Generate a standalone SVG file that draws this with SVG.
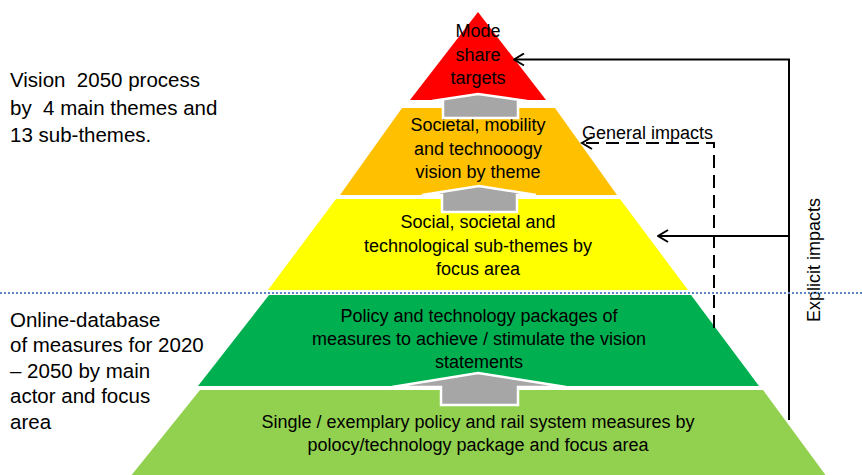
<svg xmlns="http://www.w3.org/2000/svg" width="862" height="475" viewBox="0 0 862 475">
<defs>
<style>
.t{font-family:"Liberation Sans",Arial,sans-serif;font-size:18px;fill:#000;text-anchor:middle}
.side{font-family:"Liberation Sans",Arial,sans-serif;font-size:20.5px;fill:#000}
.lbl{font-family:"Liberation Sans",Arial,sans-serif;font-size:18px;fill:#000}
.up{fill:#A6A6A6;stroke:#fff;stroke-width:2.5;stroke-linejoin:miter}
.ln{fill:none;stroke:#000;stroke-width:2}
.dash{fill:none;stroke:#000;stroke-width:2;stroke-dasharray:13 7}
</style>
<marker id="open" viewBox="0 0 12 14" refX="11" refY="7" markerWidth="12" markerHeight="14" markerUnits="userSpaceOnUse" orient="auto">
<path d="M1,1 L11,7 L1,13" fill="none" stroke="#000" stroke-width="2"/>
</marker>
</defs>
<rect width="862" height="475" fill="#fff"/>

<g id="level-base">
<polygon points="200,390 763,390 827,477 130,477" fill="#92D050"/>
<text class="t" x="478" y="428">Single / exemplary policy and rail system measures by</text>
<text class="t" x="478" y="451">polocy/technology package and focus area</text>
</g>
<g id="level-packages">
<polygon points="269,295 691,295 759,386 198,386" fill="#00B050"/>
<text class="t" x="479" y="322">Policy and technology packages of</text>
<text class="t" x="479" y="345">measures to achieve / stimulate the vision</text>
<text class="t" x="479" y="368">statements</text>
</g>
<g id="level-subthemes">
<polygon points="336,199 620,199 688,290 268,290" fill="#FFFF00"/>
<text class="t" x="478" y="228">Social, societal and</text>
<text class="t" x="478" y="252">technological sub-themes by</text>
<text class="t" x="478" y="275">focus area</text>
</g>
<g id="level-vision">
<polygon points="402,108 555,108 617,195 340,195" fill="#FFC000"/>
<text class="t" x="478" y="131">Societal, mobility</text>
<text class="t" x="478" y="155">and technooogy</text>
<text class="t" x="478" y="178">vision by theme</text>
</g>
<g id="level-targets">
<polygon points="478,12 546,100 410,100" fill="#FF0000"/>
</g>

<g id="arrows-up">
<polygon class="up" points="478,94 527,101 518,101 518,118 443,118 443,101 432,101"/>
<polygon class="up" points="479,186 536,195 517,195 517,212 442,212 442,195 422,195"/>
<polygon class="up" points="478,373 566,387 518,387 518,405 441,405 441,387 392,387"/>
</g>

<g id="targets-text">
<text class="t" x="478" y="37">Mode</text>
<text class="t" x="478" y="61">share</text>
<text class="t" x="478" y="84">targets</text>
</g>

<g id="connectors">
<polyline class="ln" points="789,420 789,59.5 514,59.5" marker-end="url(#open)"/>
<line class="ln" x1="789" y1="236" x2="658" y2="236" marker-end="url(#open)"/>
<polyline class="dash" points="714,328 714,143 582,143"/>
<path d="M592,137 L582,143 L592,149" class="ln"/>
</g>

<g id="labels">
<text class="lbl" x="582" y="139">General impacts</text>
<text class="lbl" text-anchor="middle" transform="translate(820,260) rotate(-90)">Explicit impacts</text>
</g>

<line x1="0" y1="293" x2="862" y2="293" stroke="#5B86C5" stroke-width="2" stroke-dasharray="2 2"/>

<g id="left-top">
<text class="side" x="10" y="87" xml:space="preserve">Vision  2050 process</text>
<text class="side" x="10" y="115" xml:space="preserve">by  4 main themes and</text>
<text class="side" x="10" y="142">13 sub-themes.</text>
</g>
<g id="left-bottom">
<text class="side" x="10" y="327">Online-database</text>
<text class="side" x="10" y="352">of measures for 2020</text>
<text class="side" x="10" y="378">– 2050 by main</text>
<text class="side" x="10" y="403">actor and focus</text>
<text class="side" x="10" y="429">area</text>
</g>
</svg>
